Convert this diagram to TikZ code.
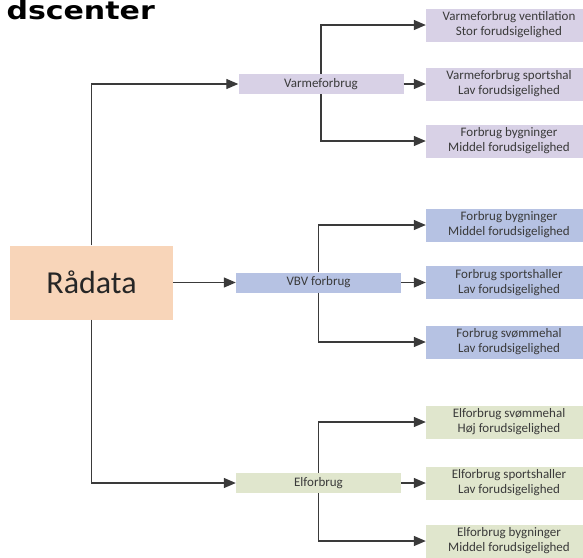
\documentclass[tikz,border=0pt]{standalone}
\usepackage{fontspec}
\setmainfont{Carlito}
\newfontfamily\titlefont{DejaVu Sans}
\usetikzlibrary{arrows.meta}

\definecolor{raapeach}{HTML}{F8D5B9}
\definecolor{varmelilla}{HTML}{D8D1E6}
\definecolor{vbvblaa}{HTML}{B6C2E3}
\definecolor{elgroen}{HTML}{E0E6CD}
\definecolor{linjegraa}{HTML}{3A3A3A}
\definecolor{tekstgraa}{HTML}{3A3A3A}

\tikzset{
  leftbox/.style={minimum width=165pt, minimum height=20pt, inner sep=0pt,
    font=\fontsize{13}{15}\selectfont, text=tekstgraa},
  rightbox/.style={minimum width=166pt, minimum height=33pt, inner sep=0pt,
    align=center, font=\fontsize{13}{15}\selectfont, text=tekstgraa},
  pil/.style={draw=linjegraa, line width=1.3pt, -{Triangle[length=12pt,width=10pt]}}
}

\begin{document}
\begin{tikzpicture}[x=1pt, y=-1pt]

  \useasboundingbox (0,0) rectangle (583,557);

  \node[anchor=base west, font=\titlefont\bfseries\fontsize{25}{25}\selectfont] (titel) at (3,19) {\scalebox{1.2}[1]{dscenter}};

  \node[fill=raapeach, minimum width=163pt, minimum height=74pt, inner sep=0pt,
    font=\fontsize{32}{32}\selectfont, text=black!85] (raa) at (91.5,282.5) {Rådata};

  % mellemste kolonne
  \node[leftbox, fill=varmelilla] (varme) at (321,84) {Varmeforbrug};
  \node[leftbox, fill=vbvblaa] (vbv) at (318.5,282.5) {VBV forbrug};
  \node[leftbox, fill=elgroen] (el) at (318.5,483) {Elforbrug};

  % hoejre kolonne
  \node[rightbox, fill=varmelilla] (v1) at (509,25) {Varmeforbrug ventilation\\Stor forudsigelighed};
  \node[rightbox, fill=varmelilla] (v2) at (509,84) {Varmeforbrug sportshal\\Lav forudsigelighed};
  \node[rightbox, fill=varmelilla] (v3) at (509,141) {Forbrug bygninger\\Middel forudsigelighed};

  \node[rightbox, fill=vbvblaa] (b1) at (509,225) {Forbrug bygninger\\Middel forudsigelighed};
  \node[rightbox, fill=vbvblaa] (b2) at (509,282.5) {Forbrug sportshaller\\Lav forudsigelighed};
  \node[rightbox, fill=vbvblaa] (b3) at (509,342) {Forbrug svømmehal\\Lav forudsigelighed};

  \node[rightbox, fill=elgroen] (e1) at (509,422) {Elforbrug svømmehal\\Høj forudsigelighed};
  \node[rightbox, fill=elgroen] (e2) at (509,483) {Elforbrug sportshaller\\Lav forudsigelighed};
  \node[rightbox, fill=elgroen] (e3) at (509,541) {Elforbrug bygninger\\Middel forudsigelighed};

  \draw[pil] (raa.north) |- (varme.west);
  \draw[pil] (raa.east) -- (vbv.west);
  \draw[pil] (raa.south) |- (el.west);

  \draw[pil] (varme.north) |- (v1.west);
  \draw[pil] (varme.east) -- (v2.west);
  \draw[pil] (varme.south) |- (v3.west);

  \draw[pil] (vbv.north) |- (b1.west);
  \draw[pil] (vbv.east) -- (b2.west);
  \draw[pil] (vbv.south) |- (b3.west);

  \draw[pil] (el.north) |- (e1.west);
  \draw[pil] (el.east) -- (e2.west);
  \draw[pil] (el.south) |- (e3.west);

\end{tikzpicture}
\end{document}
